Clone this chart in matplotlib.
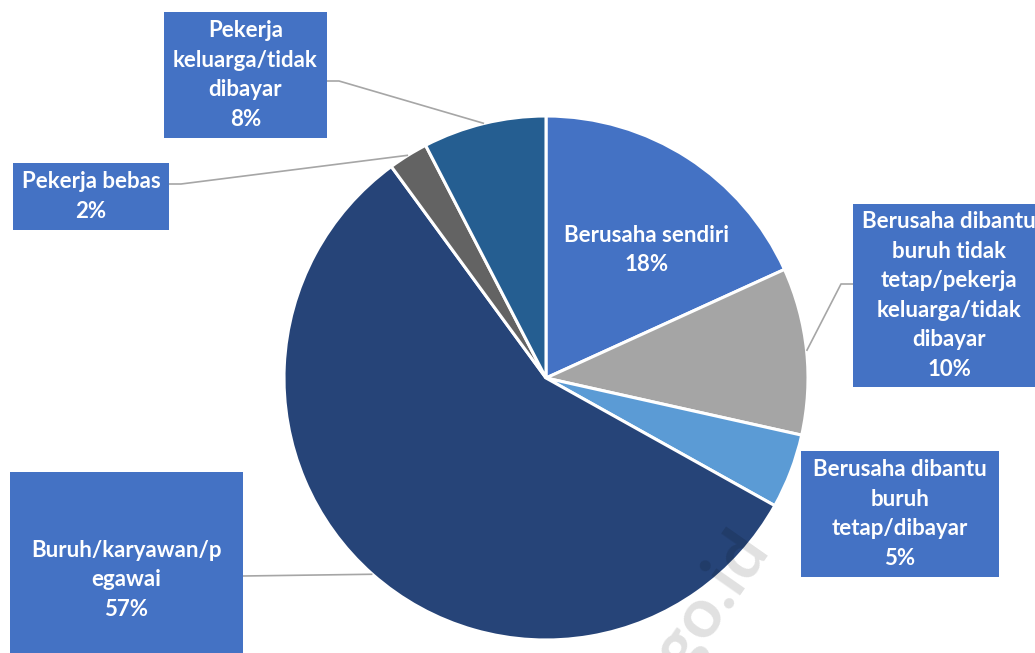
import numpy as np
import matplotlib
matplotlib.use('Agg')
import matplotlib.pyplot as plt
from matplotlib.patches import Rectangle

plt.rcParams['font.family'] = ['Lato', 'DejaVu Sans']

# data
categories = [
    'Berusaha sendiri',
    'Berusaha dibantu buruh tidak tetap/pekerja keluarga/tidak dibayar',
    'Berusaha dibantu buruh tetap/dibayar',
    'Buruh/karyawan/pegawai',
    'Pekerja bebas',
    'Pekerja keluarga/tidak dibayar',
]
shares = [18.2, 10.3, 4.6, 56.85, 2.45, 7.6]
label_lines = [
    ['Berusaha sendiri'],
    ['Berusaha dibantu', 'buruh tidak', 'tetap/pekerja', 'keluarga/tidak', 'dibayar'],
    ['Berusaha dibantu', 'buruh', 'tetap/dibayar'],
    ['Buruh/karyawan/p', 'egawai'],
    ['Pekerja bebas'],
    ['Pekerja', 'keluarga/tidak', 'dibayar'],
]
colors = ['#4472C4', '#A5A5A5', '#5B9BD5', '#264478', '#636363', '#255E91']

W, H = 1035, 653
def py(y):
    # pixel row (top down) -> data y (bottom up)
    return H - y

cx, cy, R = 546, py(378), 262

fig = plt.figure(figsize=(W / 100, H / 100), dpi=100)
ax = fig.add_axes([0, 0, 1, 1])

wedges, _ = ax.pie(shares, colors=colors, startangle=90, counterclock=False,
                   center=(cx, cy), radius=R,
                   wedgeprops=dict(edgecolor='white', linewidth=2.2))
ax.set_xlim(0, W)
ax.set_ylim(0, H)
ax.set_aspect('equal')
ax.axis('off')

# label boxes: (x0, y0, x1, y1) in pixels, None = inside the slice
boxes = [
    None,
    (853, 204, 1045, 387),
    (801, 451, 999, 577),
    (10, 472, 243, 688),
    (13, 163, 169, 230),
    (164, 12, 327, 138),
]
# leader: anchor point on box and elbow x
leaders = [
    None,
    ((853, 284), 841),
    None,
    ((243, 576), 243),
    ((169, 184), 181),
    ((327, 81), 339),
]

line_h = 29.5
fs = 16
for i, w in enumerate(wedges):
    pct = '{:.0f}%'.format(shares[i])
    lines = label_lines[i] + [pct]
    mid = np.deg2rad((w.theta1 + w.theta2) / 2)
    if boxes[i] is None:
        tx, ty = 647, py(250)
    else:
        x0, y0, x1, y1 = boxes[i]
        ax.add_patch(Rectangle((x0, py(y1)), x1 - x0, y1 - y0,
                               facecolor='#4472C4', edgecolor='none', zorder=3))
        tx, ty = (x0 + x1) / 2, py((y0 + y1) / 2)
    n = len(lines)
    for k, s in enumerate(lines):
        ax.text(tx, ty + (n - 1) / 2 * line_h - k * line_h, s, ha='center', va='center',
                color='white', fontsize=fs, fontweight='bold', zorder=4)
    if leaders[i] is not None:
        (bx, by), ex = leaders[i]
        px_, py_ = cx + R * np.cos(mid), cy + R * np.sin(mid)
        ax.plot([bx, ex, px_], [py(by), py(by), py_], color='#A6A6A6', lw=1.2,
                zorder=2, solid_capstyle='butt')

# watermark
ax.text(770, py(548), 'bps.go.id', rotation=55, rotation_mode='anchor',
        ha='right', va='baseline', fontsize=50, fontweight='bold',
        color='black', alpha=0.12, zorder=5)

fig.savefig('out.png', dpi=100)
